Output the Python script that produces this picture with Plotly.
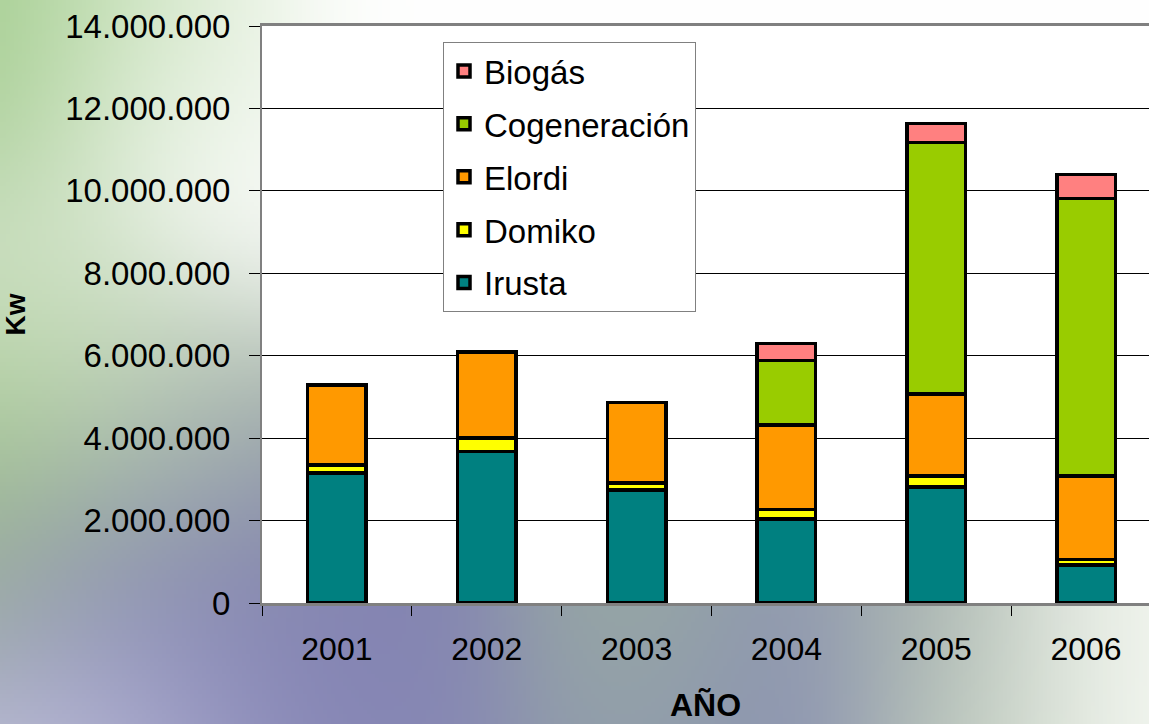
import base64
import struct
import zlib

import numpy as np
import plotly.graph_objects as go

YEARS = ['2001', '2002', '2003', '2004', '2005', '2006']

IRUSTA = [3150000, 3670000, 2740000, 2040000, 2820000, 920000]
DOMIKO = [200000, 330000, 170000, 230000, 260000, 140000]
ELORDI = [1940000, 2090000, 1950000, 2050000, 1990000, 2020000]
COGENERACION = [None, None, None, 1560000, 6100000, 6740000]
BIOGAS = [None, None, None, 420000, 470000, 580000]

SERIES = [
    ('Irusta', IRUSTA, '#008080'),
    ('Domiko', DOMIKO, '#FFFF00'),
    ('Elordi', ELORDI, '#FF9900'),
    ('Cogeneración', COGENERACION, '#99CC00'),
    ('Biogás', BIOGAS, '#FF8080'),
]

W, H = 1149, 724
M_L, M_R, M_T, M_B = 262, 0, 26, 121
FONT = 'Liberation Sans, Arial, sans-serif'

# rough colour stops of the backdrop (figure pixels)
BG_STOPS = [
    (0, 0, '#9cc987'), (100, 0, '#c5e0b5'), (200, 20, '#eef5ea'),
    (400, 0, '#ffffff'), (700, 0, '#ffffff'), (1000, 0, '#ffffff'), (1149, 0, '#ffffff'),
    (500, 60, '#ffffff'), (900, 60, '#ffffff'),
    (0, 150, '#a5cc90'), (150, 150, '#f0f6ee'), (250, 250, '#ffffff'),
    (0, 260, '#dfe8dc'), (60, 330, '#d5e6cc'), (0, 360, '#a8cc90'),
    (150, 380, '#cfe2c4'), (230, 410, '#a4b4a0'),
    (0, 450, '#9cc488'), (150, 470, '#9aa6a8'), (250, 500, '#8688b0'),
    (0, 550, '#a0b0a0'), (100, 600, '#8486b4'), (250, 620, '#8080b0'),
    (80, 715, '#c8c8e0'), (200, 700, '#9a9ac4'),
    (400, 650, '#8080b0'), (400, 715, '#8a8ab8'),
    (620, 640, '#9cb09e'), (620, 710, '#8e98b0'),
    (780, 680, '#8a90b4'), (930, 640, '#a2aea8'),
    (1000, 710, '#c8d4c4'), (1100, 640, '#f2f6ee'), (1145, 715, '#fafcf8'),
]


def hex_rgb(c):
    c = c.lstrip('#')
    return [int(c[i:i + 2], 16) for i in (0, 2, 4)]


def backdrop_uri(scale=4, sigma=90.0):
    w, h = W // scale, H // scale
    ys, xs = np.mgrid[0:h, 0:w].astype(float)
    xs *= scale
    ys *= scale
    acc = np.zeros((h, w, 3))
    wsum = np.full((h, w), 1e-12)
    for x, y, col in BG_STOPS:
        wt = np.exp(-((xs - x) ** 2 + (ys - y) ** 2) / (2 * sigma ** 2))
        acc += wt[..., None] * np.array(hex_rgb(col), dtype=float)
        wsum += wt
    img = np.clip(acc / wsum[..., None], 0, 255).astype(np.uint8)
    raw = b''.join(b'\x00' + img[r].tobytes() for r in range(h))

    def chunk(tag, data):
        body = tag + data
        return struct.pack('>I', len(data)) + body + struct.pack('>I', zlib.crc32(body) & 0xffffffff)

    png = b'\x89PNG\r\n\x1a\n'
    png += chunk(b'IHDR', struct.pack('>IIBBBBB', w, h, 8, 2, 0, 0, 0))
    png += chunk(b'IDAT', zlib.compress(raw, 9))
    png += chunk(b'IEND', b'')
    return 'data:image/png;base64,' + base64.b64encode(png).decode()


def build_figure():
    fig = go.Figure()
    for i, (name, values, color) in enumerate(SERIES):
        fig.add_trace(go.Bar(
            x=YEARS, y=values, name=name, legendgroup=name,
            legendrank=len(SERIES) - i,
            marker=dict(color=color, line=dict(color='black', width=3.5)),
            width=0.39,
        ))

    pw = W - M_L - M_R
    ph = H - M_T - M_B

    fig.update_layout(
        width=W, height=H,
        margin=dict(l=M_L, r=M_R, t=M_T, b=M_B, autoexpand=False),
        barmode='stack',
        separators=',.',
        paper_bgcolor='#8080b0',
        plot_bgcolor='white',
        font=dict(family=FONT, size=32, color='black'),
        showlegend=True,
        legend=dict(
            x=(443 - M_L) / pw, y=1 - (42 - M_T) / ph,
            xanchor='left', yanchor='top',
            traceorder='grouped', tracegroupgap=7,
            bgcolor='white', bordercolor='#808080', borderwidth=1,
            font=dict(family=FONT, size=33),
        ),
        images=[dict(
            source=backdrop_uri(), xref='paper', yref='paper',
            x=-M_L / pw, y=1 + M_T / ph, sizex=W / pw, sizey=H / ph,
            xanchor='left', yanchor='top', sizing='stretch', layer='below',
        )],
        shapes=[dict(
            type='rect', xref='paper', yref='paper', x0=0, x1=1, y0=0, y1=1,
            fillcolor='white', line=dict(width=0), layer='below',
        )],
    )

    fig.update_xaxes(
        type='category', range=[-0.5, 5.42], automargin=False,
        showline=True, linecolor='#808080', linewidth=3, mirror=True,
        ticks='outside', tickson='boundaries', ticklen=10, tickcolor='black',
        ticklabelstandoff=16,
        tickfont=dict(family=FONT, size=32),
        title=dict(text='<b>AÑO</b>', font=dict(family=FONT, size=32), standoff=28),
        showgrid=False,
    )
    fig.update_yaxes(
        range=[0, 14000000], dtick=2000000, tickformat=',d', automargin=False,
        showline=True, linecolor='#808080', linewidth=2,
        ticks='outside', ticklen=11, tickcolor='black',
        ticklabelstandoff=12,
        tickfont=dict(family=FONT, size=33),
        showgrid=True, gridcolor='black', gridwidth=1,
        zeroline=False,
        title=dict(text='<b>Kw</b>', font=dict(family=FONT, size=28), standoff=48),
    )
    return fig


def main():
    fig = build_figure()
    fig.write_html('out.html', config={'displayModeBar': False},
                   post_script="document.body.style.margin = '0';")


if __name__ == '__main__':
    main()
